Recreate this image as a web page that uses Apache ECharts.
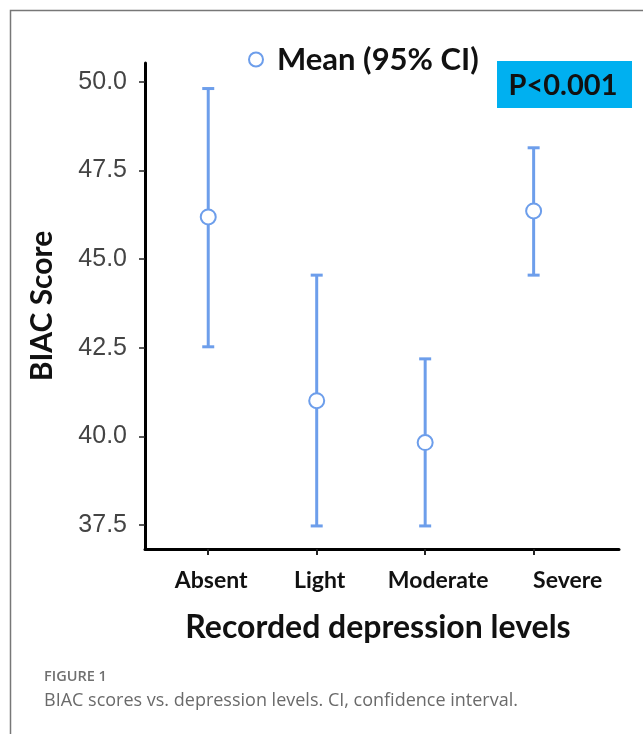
<!DOCTYPE html>
<html><head><meta charset="utf-8">
<script src="https://cdn.jsdelivr.net/npm/echarts@6/dist/echarts.min.js"></script>
<style>html,body{margin:0;padding:0;background:#fff}#c{width:643px;height:734px}</style>
</head><body><div id="c"></div>
<script>
const categories = ['Absent', 'Light', 'Moderate', 'Severe'];
const means = [46.19, 41.01, 39.83, 46.36];
const lowerCI = [42.53, 37.48, 37.48, 44.55];
const upperCI = [49.81, 44.55, 42.19, 48.14];
const yTicks = [37.5, 40.0, 42.5, 45.0, 47.5, 50.0];
const xTicks = [0, 1, 2, 3];
const legendName = 'Mean (95% CI)';
const pText = 'P<0.001';
const xTitle = 'Recorded depression levels';
const yTitle = 'BIAC Score';
const figLabel = 'FIGURE 1';
const caption = 'BIAC scores vs. depression levels. CI, confidence interval.';

const BLUE = '#6d9eeb';
const meanData = categories.map((c, i) => [i, means[i]]);
const ciData = categories.map((c, i) => [i, lowerCI[i], upperCI[i]]);
const labelPad = [6, 6, 26, 68];
const rich = {};
labelPad.forEach((p, i) => { rich['c' + i] = { padding: [0, 0, 0, p], fontFamily: 'Lato', fontWeight: 'bold', fontSize: 23, color: '#111' }; });

const chart = echarts.init(document.getElementById('c'), null, { renderer: 'canvas' });
chart.setOption({
  animation: false,
  backgroundColor: '#fff',
  grid: { left: 145, right: 24, top: 63, bottom: 185, containLabel: false },
  legend: {
    data: [legendName], left: 243, top: 39, itemWidth: 14, itemHeight: 14,
    textStyle: { fontFamily: 'Lato', fontWeight: 'bold', fontSize: 31, color: '#111', padding: [0, 0, 0, 9] }
  },
  xAxis: {
    type: 'value', min: -0.583, max: 3.787,
    name: xTitle, nameLocation: 'middle', nameGap: 63,
    nameTextStyle: { fontFamily: 'Lato', fontWeight: 'bold', fontSize: 32, color: '#111', padding: [0, 8, 0, 0] },
    axisLine: { show: true, onZero: false, lineStyle: { color: '#000', width: 3 } },
    axisTick: { show: true, customValues: xTicks, length: 6, lineStyle: { color: '#222', width: 2 } },
    axisLabel: {
      customValues: xTicks, margin: 20,
      formatter: v => { const i = Math.round(v); return '{c' + i + '|' + categories[i] + '}'; },
      rich: rich
    },
    splitLine: { show: false }
  },
  yAxis: {
    type: 'value', min: 36.83, max: 50.53,
    name: yTitle, nameLocation: 'middle', nameGap: 88,
    nameTextStyle: { fontFamily: 'Lato', fontWeight: 'bold', fontSize: 30, color: '#111' },
    axisLine: { show: true, onZero: false, lineStyle: { color: '#000', width: 3 } },
    axisTick: { show: true, customValues: yTicks, length: 6, lineStyle: { color: '#222', width: 1.5 } },
    axisLabel: {
      customValues: yTicks, margin: 18, formatter: v => v.toFixed(1),
      fontFamily: 'Liberation Sans', fontSize: 25, color: '#444'
    },
    splitLine: { show: false }
  },
  series: [
    {
      type: 'custom', name: 'CI', data: ciData, z: 2,
      encode: { x: 0, y: [1, 2] },
      renderItem: function (params, api) {
        const x = api.value(0);
        const lo = api.coord([x, api.value(1)]);
        const hi = api.coord([x, api.value(2)]);
        const hw = 6;
        const style = { stroke: BLUE, lineWidth: 3 };
        return { type: 'group', children: [
          { type: 'line', shape: { x1: lo[0], y1: lo[1], x2: hi[0], y2: hi[1] }, style: style },
          { type: 'line', shape: { x1: lo[0] - hw, y1: lo[1], x2: lo[0] + hw, y2: lo[1] }, style: style },
          { type: 'line', shape: { x1: hi[0] - hw, y1: hi[1], x2: hi[0] + hw, y2: hi[1] }, style: style }
        ] };
      }
    },
    {
      type: 'scatter', name: legendName, data: meanData, z: 5,
      symbol: 'circle', symbolSize: 15,
      itemStyle: { color: '#fff', borderColor: BLUE, borderWidth: 2, opacity: 1 }
    }
  ],
  graphic: [
    { type: 'rect', shape: { x: 10.5, y: 10.5, width: 800, height: 900 }, style: { fill: 'none', stroke: '#777', lineWidth: 1.5 }, silent: true },
    { type: 'rect', shape: { x: 497, y: 61, width: 135, height: 47 }, style: { fill: '#00b0f0' }, z: 10 },
    { type: 'text', x: 563, y: 86, style: { text: pText, fontFamily: 'Lato', fontWeight: 'bold', fontSize: 29, fill: '#111', textAlign: 'center', textVerticalAlign: 'middle' }, z: 11 },
    { type: 'text', x: 44, y: 677, style: { text: figLabel, fontFamily: 'Open Sans', fontWeight: 600, fontSize: 14.5, fill: '#707070', textVerticalAlign: 'middle' } },
    { type: 'text', x: 44, y: 701, style: { text: caption, fontFamily: 'Open Sans', fontSize: 18, fill: '#6a6a6a', textVerticalAlign: 'middle' } }
  ]
});
</script></body></html>
